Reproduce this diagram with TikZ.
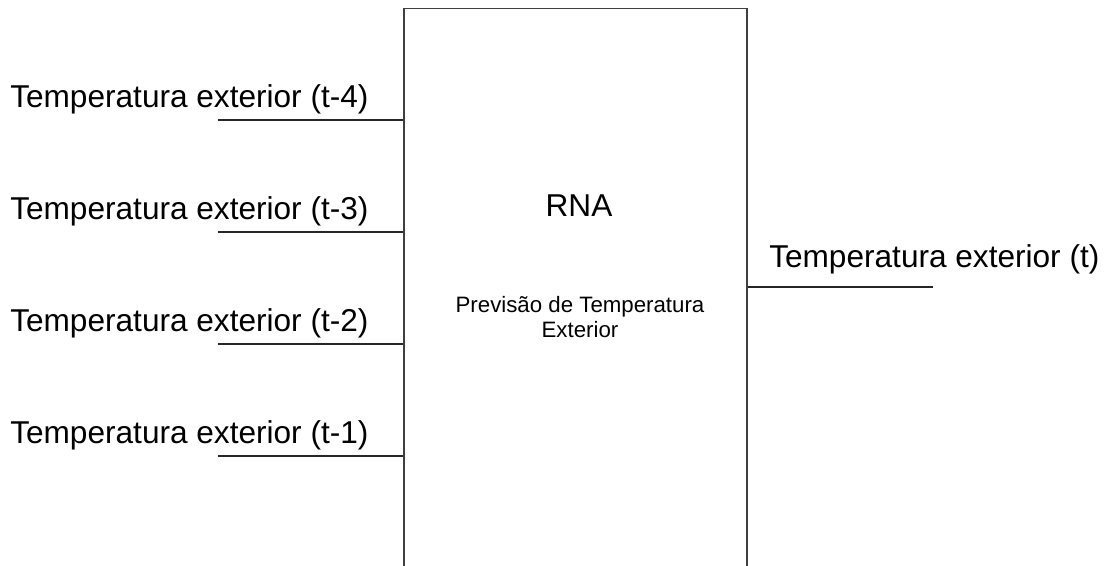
\documentclass[tikz,border=0pt]{standalone}
\usepackage{fontspec}
\setmainfont{Liberation Sans}
\usetikzlibrary{positioning}
\tikzset{
  biglabel/.style={inner sep=0pt,anchor=base west,font=\fontsize{23.7}{28}\selectfont},
  rnabox/.style={draw=black!75,line width=1.1pt,minimum width=257.25pt,minimum height=452.25pt,inner sep=0pt},
  wire/.style={line width=0.8pt,black!85}
}
\begin{document}
\begin{tikzpicture}[x=0.75pt,y=-0.75pt]
  \useasboundingbox (0,0) rectangle (1108,565);
  \clip (0,0) rectangle (1108,565);
  % network block, open at the bottom of the page
  \node[rnabox] (rna) at (575.5,310) {};
  \node[inner sep=0pt,font=\fontsize{23.7}{28}\selectfont] (rnatitle) at (579,206) {RNA};
  \node[inner sep=0pt,align=center,font=\fontsize{16.7}{18.75}\selectfont,anchor=north] (rnadesc) at (580,296) {Previsão de Temperatura\\Exterior};
  % inputs
  \foreach \k/\yy in {4/120,3/232,2/344,1/456}{
    \node[biglabel] (lab\k) at (10,\yy-13) {Temperatura exterior (t-\k)};
    \coordinate (in\k) at (218,\yy);
    \draw[wire] (in\k) -- (in\k -| rna.west);
  }
  % output
  \coordinate (out) at (933,287);
  \draw[wire] (rna.east |- out) -- (out);
  \node[biglabel] (labout) at (769,267) {Temperatura exterior (t)};
\end{tikzpicture}
\end{document}
